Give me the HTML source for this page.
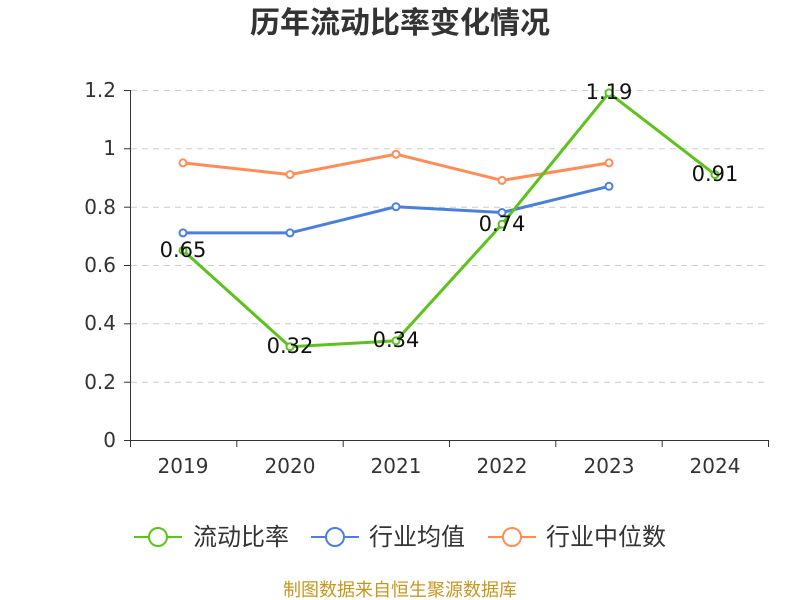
<!DOCTYPE html>
<html><head><meta charset="utf-8"><style>body{margin:0;background:#fff}svg{display:block}text{font-family:"DejaVu Sans","Noto Sans CJK SC",sans-serif}</style></head><body>
<svg width="800" height="600" xmlns="http://www.w3.org/2000/svg">
<text x="400" y="33" text-anchor="middle" font-size="30" font-weight="bold" fill="#333" font-family="Noto Sans CJK SC, sans-serif">历年流动比率变化情况</text>
<g stroke="#ccc" stroke-dasharray="6,5" stroke-width="1">
<line x1="131" y1="90.5" x2="768" y2="90.5"/><line x1="131" y1="148.8" x2="768" y2="148.8"/><line x1="131" y1="207.2" x2="768" y2="207.2"/><line x1="131" y1="265.5" x2="768" y2="265.5"/><line x1="131" y1="323.8" x2="768" y2="323.8"/><line x1="131" y1="382.2" x2="768" y2="382.2"/>
</g>
<g stroke="#333" stroke-width="1">
<line x1="130.5" y1="90" x2="130.5" y2="441"/><line x1="130" y1="440.5" x2="769" y2="440.5"/>
<line x1="124" y1="90.5" x2="130" y2="90.5"/><line x1="124" y1="148.8" x2="130" y2="148.8"/><line x1="124" y1="207.2" x2="130" y2="207.2"/><line x1="124" y1="265.5" x2="130" y2="265.5"/><line x1="124" y1="323.8" x2="130" y2="323.8"/><line x1="124" y1="382.2" x2="130" y2="382.2"/><line x1="124" y1="440.5" x2="130" y2="440.5"/>
<line x1="130.5" y1="440" x2="130.5" y2="447"/><line x1="236.8" y1="440" x2="236.8" y2="447"/><line x1="343.2" y1="440" x2="343.2" y2="447"/><line x1="449.5" y1="440" x2="449.5" y2="447"/><line x1="555.8" y1="440" x2="555.8" y2="447"/><line x1="662.2" y1="440" x2="662.2" y2="447"/><line x1="768.5" y1="440" x2="768.5" y2="447"/>
</g>
<g font-size="20" fill="#333" text-anchor="end">
<text x="116" y="97">1.2</text><text x="116" y="155">1</text><text x="116" y="214">0.8</text><text x="116" y="272">0.6</text><text x="116" y="330">0.4</text><text x="116" y="389">0.2</text><text x="116" y="447">0</text>
</g>
<g font-size="20" fill="#333" text-anchor="middle">
<text x="183" y="473">2019</text><text x="290" y="473">2020</text><text x="396" y="473">2021</text><text x="502" y="473">2022</text><text x="609" y="473">2023</text><text x="715" y="473">2024</text>
</g>
<polyline fill="none" stroke="#ff8c55" stroke-width="3" points="183,162.9 290,174.6 396,154.2 502,180.4 609,162.9"/>
<g fill="#fff" stroke="#ff8c55" stroke-width="2"><circle cx="183" cy="162.9" r="3.5"/><circle cx="290" cy="174.6" r="3.5"/><circle cx="396" cy="154.2" r="3.5"/><circle cx="502" cy="180.4" r="3.5"/><circle cx="609" cy="162.9" r="3.5"/></g>
<polyline fill="none" stroke="#4a7fe0" stroke-width="3" points="183,232.9 290,232.9 396,206.7 502,212.5 609,186.3"/>
<g fill="#fff" stroke="#4a7fe0" stroke-width="2"><circle cx="183" cy="232.9" r="3.5"/><circle cx="290" cy="232.9" r="3.5"/><circle cx="396" cy="206.7" r="3.5"/><circle cx="502" cy="212.5" r="3.5"/><circle cx="609" cy="186.3" r="3.5"/></g>
<polyline fill="none" stroke="#5cc31c" stroke-width="3" points="183,250.4 290,346.7 396,340.8 502,224.2 609,92.9 715,174.6"/>
<g fill="#fff" stroke="#5cc31c" stroke-width="2"><circle cx="183" cy="250.4" r="3.5"/><circle cx="290" cy="346.7" r="3.5"/><circle cx="396" cy="340.8" r="3.5"/><circle cx="502" cy="224.2" r="3.5"/><circle cx="609" cy="92.9" r="3.5"/><circle cx="715" cy="174.6" r="3.5"/></g>
<g font-size="21" fill="#111" text-anchor="middle">
<text x="183" y="257">0.65</text><text x="290" y="353">0.32</text><text x="396" y="347">0.34</text><text x="502" y="231">0.74</text><text x="609" y="99">1.19</text><text x="715" y="181">0.91</text>
</g>
<g stroke-width="2" fill="#fff">
<line x1="134" y1="537" x2="182" y2="537" stroke="#5cc31c"/><circle cx="158" cy="537" r="9" stroke="#5cc31c"/>
<line x1="311" y1="537" x2="359" y2="537" stroke="#4a7fe0"/><circle cx="335" cy="537" r="9" stroke="#4a7fe0"/>
<line x1="488" y1="537" x2="536" y2="537" stroke="#ff8c55"/><circle cx="512" cy="537" r="9" stroke="#ff8c55"/>
</g>
<g font-size="24" fill="#333">
<text x="193" y="545">流动比率</text><text x="369" y="545">行业均值</text><text x="546" y="545">行业中位数</text>
</g>
<text x="400" y="596" text-anchor="middle" font-size="18" fill="#c8961e">制图数据来自恒生聚源数据库</text>
</svg>
</body></html>
